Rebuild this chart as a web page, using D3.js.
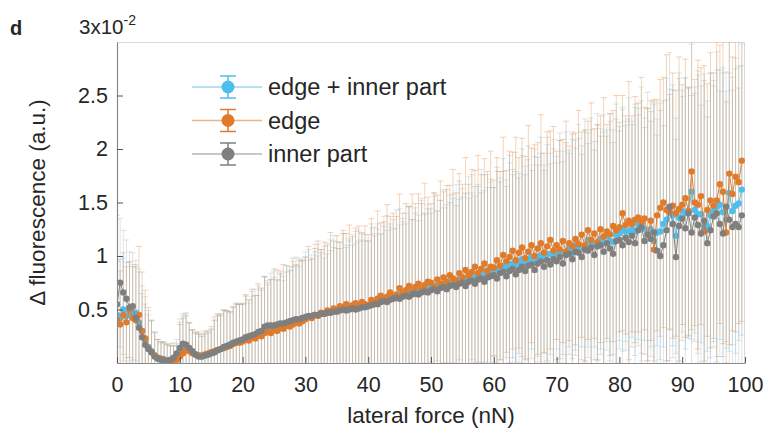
<!DOCTYPE html>
<html>
<head>
<meta charset="utf-8">
<script src="https://cdn.jsdelivr.net/npm/d3@7"></script>
<style>
body { margin: 0; background: #fff; }
text { font-family: "Liberation Sans", Arial, sans-serif; fill: #262626; }
</style>
</head>
<body>
<div id="chart"></div>
<script>
// lateral force (nN), one sample every 0.5 nN
var force = [0,0.5,1,1.5,2,2.5,3,3.5,4,4.5,5,5.5,6,6.5,7,7.5,8,8.5,9,9.5,
  10,10.5,11,11.5,12,12.5,13,13.5,14,14.5,15,15.5,16,16.5,17,17.5,18,18.5,19,19.5,
  20,20.5,21,21.5,22,22.5,23,23.5,24,24.5,25,25.5,26,26.5,27,27.5,28,28.5,29,29.5,
  30,30.5,31,31.5,32,32.5,33,33.5,34,34.5,35,35.5,36,36.5,37,37.5,38,38.5,39,39.5,
  40,40.5,41,41.5,42,42.5,43,43.5,44,44.5,45,45.5,46,46.5,47,47.5,48,48.5,49,49.5,
  50,50.5,51,51.5,52,52.5,53,53.5,54,54.5,55,55.5,56,56.5,57,57.5,58,58.5,59,59.5,
  60,60.5,61,61.5,62,62.5,63,63.5,64,64.5,65,65.5,66,66.5,67,67.5,68,68.5,69,69.5,
  70,70.5,71,71.5,72,72.5,73,73.5,74,74.5,75,75.5,76,76.5,77,77.5,78,78.5,79,79.5,
  80,80.5,81,81.5,82,82.5,83,83.5,84,84.5,85,85.5,86,86.5,87,87.5,88,88.5,89,89.5,
  90,90.5,91,91.5,92,92.5,93,93.5,94,94.5,95,95.5,96,96.5,97,97.5,98,98.5,99,99.5];

// mean delta fluorescence, in units of 1e-2 a.u.
var meanBoth = [0.45,0.42,0.50,0.44,0.48,0.45,0.47,0.38,0.30,0.22,0.15,0.11,0.07,0.05,0.04,0.03,0.02,0.02,0.03,0.05,
  0.10,0.14,0.15,0.13,0.10,0.08,0.07,0.06,0.07,0.08,0.09,0.10,0.12,0.13,0.14,0.16,0.17,0.18,0.19,0.20,
  0.21,0.23,0.23,0.25,0.25,0.27,0.28,0.31,0.32,0.32,0.33,0.33,0.35,0.35,0.36,0.37,0.38,0.39,0.39,0.41,
  0.42,0.43,0.43,0.45,0.45,0.46,0.46,0.48,0.48,0.50,0.49,0.51,0.51,0.52,0.51,0.53,0.53,0.52,0.54,0.54,
  0.54,0.56,0.57,0.56,0.59,0.59,0.60,0.61,0.62,0.63,0.64,0.64,0.66,0.65,0.67,0.68,0.67,0.69,0.70,0.69,
  0.71,0.72,0.72,0.72,0.74,0.74,0.75,0.77,0.75,0.78,0.78,0.78,0.79,0.81,0.79,0.83,0.84,0.81,0.86,0.85,
  0.85,0.87,0.88,0.91,0.88,0.92,0.93,0.92,0.93,0.97,0.94,0.97,0.99,0.94,0.99,1.01,0.97,1.02,1.02,1.01,
  1.03,1.04,1.03,1.04,1.07,1.03,1.10,1.08,1.09,1.09,1.15,1.12,1.11,1.12,1.16,1.12,1.19,1.14,1.13,1.20,
  1.21,1.25,1.23,1.23,1.25,1.23,1.30,1.30,1.25,1.20,1.25,1.14,1.22,1.23,1.30,1.34,1.44,1.38,1.19,1.36,
  1.42,1.40,1.41,1.60,1.43,1.39,1.39,1.28,1.28,1.38,1.42,1.46,1.48,1.41,1.34,1.59,1.42,1.47,1.49,1.62];
var meanEdge = [0.40,0.36,0.45,0.38,0.50,0.42,0.40,0.45,0.30,0.23,0.14,0.10,0.07,0.05,0.04,0.03,0.02,0.02,0.02,0.03,
  0.06,0.09,0.12,0.11,0.09,0.08,0.07,0.07,0.08,0.09,0.10,0.11,0.12,0.13,0.14,0.15,0.16,0.18,0.19,0.19,
  0.20,0.22,0.21,0.24,0.23,0.26,0.25,0.28,0.29,0.28,0.31,0.30,0.33,0.32,0.35,0.34,0.36,0.38,0.37,0.39,
  0.41,0.43,0.42,0.45,0.44,0.47,0.46,0.49,0.48,0.51,0.50,0.53,0.52,0.55,0.51,0.54,0.56,0.53,0.57,0.55,
  0.54,0.59,0.57,0.60,0.63,0.58,0.62,0.66,0.61,0.64,0.70,0.65,0.68,0.72,0.66,0.71,0.74,0.69,0.73,0.76,
  0.75,0.71,0.78,0.74,0.80,0.76,0.82,0.79,0.77,0.84,0.80,0.87,0.82,0.85,0.90,0.84,0.88,0.93,0.86,0.90,
  0.89,0.96,0.91,1.01,0.95,0.99,1.05,0.96,1.03,1.08,0.98,1.04,1.10,1.00,1.07,1.12,1.03,1.09,1.15,1.05,
  1.10,1.06,1.14,1.04,1.12,1.09,1.16,1.11,1.20,1.10,1.24,1.15,1.21,1.13,1.25,1.18,1.23,1.20,1.28,1.24,
  1.27,1.40,1.29,1.33,1.30,1.34,1.36,1.32,1.35,1.20,1.33,1.06,1.38,1.45,1.50,1.43,1.41,1.47,1.40,1.44,
  1.48,1.54,1.42,1.79,1.50,1.48,1.56,1.23,1.43,1.52,1.47,1.52,1.67,1.60,1.22,1.77,1.58,1.74,1.69,1.89];
var meanInner = [0.55,0.75,0.66,0.60,0.52,0.53,0.42,0.33,0.24,0.17,0.13,0.10,0.06,0.04,0.03,0.03,0.02,0.03,0.05,0.09,
  0.14,0.18,0.17,0.14,0.11,0.08,0.06,0.06,0.07,0.08,0.09,0.10,0.12,0.13,0.15,0.16,0.17,0.19,0.20,0.21,
  0.22,0.24,0.25,0.26,0.27,0.29,0.30,0.34,0.35,0.35,0.35,0.36,0.37,0.37,0.38,0.39,0.40,0.41,0.41,0.42,
  0.43,0.44,0.44,0.45,0.45,0.46,0.46,0.47,0.47,0.48,0.48,0.49,0.50,0.49,0.50,0.51,0.50,0.51,0.52,0.52,
  0.53,0.54,0.55,0.55,0.57,0.58,0.57,0.59,0.60,0.61,0.60,0.62,0.63,0.62,0.64,0.65,0.64,0.66,0.67,0.66,
  0.68,0.69,0.67,0.70,0.71,0.69,0.72,0.73,0.71,0.74,0.75,0.72,0.76,0.77,0.74,0.78,0.79,0.76,0.80,0.81,
  0.82,0.79,0.84,0.85,0.81,0.86,0.88,0.83,0.87,0.90,0.86,0.91,0.92,0.87,0.93,0.95,0.90,0.96,0.92,0.97,
  0.95,0.99,0.93,1.01,1.02,0.97,1.04,1.03,0.99,1.06,1.05,1.08,1.01,1.09,1.10,1.04,1.12,1.07,1.02,1.14,
  1.15,1.10,1.17,1.13,1.19,1.12,1.24,1.27,1.14,1.20,1.16,1.22,1.05,1.00,1.10,1.24,1.46,1.30,0.99,1.28,
  1.35,1.26,1.40,1.22,1.36,1.29,1.21,1.33,1.12,1.24,1.37,1.40,1.30,1.21,1.46,1.34,1.27,1.30,1.27,1.38];

// standard deviation, same units
var sdBoth = [0.52,0.55,0.48,0.50,0.46,0.47,0.45,0.50,0.42,0.40,0.34,0.28,0.22,0.17,0.16,0.15,0.15,0.14,0.13,0.13,
  0.28,0.30,0.31,0.25,0.21,0.20,0.20,0.19,0.20,0.21,0.23,0.30,0.32,0.32,0.35,0.33,0.31,0.34,0.36,0.35,
  0.34,0.40,0.33,0.37,0.44,0.36,0.42,0.50,0.41,0.46,0.53,0.44,0.48,0.42,0.55,0.49,0.52,0.60,0.51,0.56,
  0.62,0.53,0.58,0.66,0.55,0.60,0.52,0.64,0.57,0.69,0.58,0.62,0.70,0.56,0.63,0.67,0.59,0.72,0.61,0.66,
  0.60,0.70,0.64,0.74,0.62,0.69,0.78,0.66,0.72,0.63,0.80,0.68,0.74,0.82,0.67,0.77,0.71,0.85,0.70,0.79,
  0.73,0.84,0.70,0.80,0.88,0.74,0.82,0.77,0.92,0.75,0.85,0.80,0.95,0.78,0.86,0.82,0.97,0.80,0.90,0.84,
  0.79,0.92,0.85,1.00,0.83,0.95,0.88,1.05,0.84,0.97,0.90,1.06,0.86,0.99,0.93,1.10,0.88,1.02,0.94,1.08,
  0.90,1.04,0.95,1.12,0.92,1.06,0.98,1.15,0.94,1.08,1.00,1.17,0.96,1.10,1.03,1.20,0.99,1.12,1.05,1.22,
  1.00,1.14,1.03,1.25,1.01,1.16,1.08,1.28,1.04,1.18,1.10,1.30,1.06,1.20,1.15,1.32,1.12,1.22,1.10,1.35,
  1.13,1.27,1.16,1.38,1.15,1.30,1.20,1.42,1.17,1.33,1.22,1.45,1.26,1.35,1.20,1.48,1.25,1.38,1.28,1.36];
var sdEdge = [0.55,0.50,0.58,0.52,0.45,0.48,0.50,0.64,0.55,0.45,0.38,0.30,0.22,0.17,0.15,0.16,0.15,0.14,0.14,0.13,
  0.30,0.33,0.32,0.26,0.22,0.21,0.22,0.20,0.22,0.21,0.24,0.32,0.34,0.33,0.36,0.34,0.32,0.35,0.37,0.36,
  0.36,0.42,0.38,0.45,0.40,0.48,0.43,0.52,0.46,0.50,0.57,0.48,0.53,0.60,0.50,0.56,0.62,0.54,0.59,0.57,
  0.58,0.66,0.55,0.62,0.70,0.59,0.67,0.61,0.74,0.63,0.69,0.60,0.72,0.66,0.78,0.64,0.70,0.75,0.65,0.73,
  0.66,0.76,0.70,0.82,0.68,0.74,0.86,0.71,0.79,0.73,0.88,0.75,0.81,0.74,0.92,0.78,0.84,0.80,0.95,0.79,
  0.74,0.88,0.79,0.96,0.80,0.90,0.84,1.02,0.82,0.93,0.87,1.05,0.85,0.96,0.90,1.10,0.88,0.98,0.93,1.08,
  0.82,0.96,0.88,1.10,0.85,0.99,0.92,1.15,0.89,1.02,0.95,1.18,0.91,1.04,0.99,1.20,0.93,1.07,1.02,1.16,
  0.88,1.02,0.95,1.22,0.91,1.05,0.99,1.25,0.96,1.08,1.02,1.28,0.98,1.10,1.06,1.30,1.00,1.13,1.08,1.26,
  0.98,1.10,1.02,1.30,1.01,1.15,1.07,1.35,1.04,1.18,1.12,1.40,1.08,1.20,1.17,1.45,1.10,1.24,1.15,1.42,
  1.12,1.30,1.16,1.48,1.15,1.35,1.20,1.55,1.18,1.38,1.24,1.58,1.30,1.42,1.22,1.60,1.28,1.45,1.32,1.50];
var sdInner = [0.83,0.60,0.58,0.55,0.52,0.50,0.54,0.52,0.41,0.38,0.32,0.30,0.22,0.18,0.17,0.17,0.16,0.15,0.14,0.13,
  0.27,0.28,0.30,0.24,0.20,0.20,0.21,0.19,0.21,0.20,0.22,0.30,0.33,0.31,0.34,0.32,0.30,0.33,0.35,0.34,
  0.33,0.38,0.34,0.41,0.36,0.43,0.40,0.47,0.42,0.49,0.45,0.51,0.47,0.44,0.53,0.48,0.55,0.50,0.57,0.53,
  0.56,0.62,0.54,0.59,0.66,0.57,0.63,0.55,0.68,0.60,0.65,0.58,0.71,0.61,0.66,0.59,0.73,0.63,0.69,0.62,
  0.61,0.76,0.64,0.70,0.63,0.79,0.67,0.71,0.65,0.82,0.69,0.73,0.67,0.84,0.70,0.75,0.69,0.86,0.72,0.78,
  0.72,0.90,0.75,0.82,0.74,0.93,0.78,0.85,0.76,0.96,0.80,0.87,0.78,0.99,0.82,0.89,0.80,1.00,0.84,0.91,
  0.82,1.04,0.85,0.94,0.84,1.08,0.88,0.96,0.86,1.10,0.90,0.99,0.88,1.13,0.92,1.01,0.90,1.15,0.94,1.03,
  0.92,1.16,0.95,1.05,0.94,1.19,0.97,1.07,0.96,1.22,1.00,1.10,0.98,1.24,1.02,1.12,1.00,1.26,1.04,1.14,
  1.02,1.27,1.05,1.15,1.04,1.30,1.08,1.18,1.06,1.33,1.10,1.20,1.08,1.36,1.12,1.22,1.44,1.25,1.10,1.38,
  1.14,1.40,1.17,1.28,1.16,1.44,1.20,1.31,1.18,1.47,1.22,1.34,1.24,1.50,1.26,1.37,1.28,1.45,1.30,1.40];

var seriesNames = ["edge + inner part", "edge", "inner part"];
var xTicks = [0, 10, 20, 30, 40, 50, 60, 70, 80, 90, 100];
var yTicks = [0.5, 1, 1.5, 2, 2.5];

function drawChart() {
    var width = 783, height = 437;
    var plotLeft = 117, plotRight = 745, plotTop = 42, plotBottom = 363;

    // colours: marker, error bar (+ its opacity), legend line
    var colors = [
      {dot: "#4DBEEE", bar: "#5CC3EE", op: 0.3, leg: "#9AD8F3"},
      {dot: "#E07B2C", bar: "#EC9752", op: 0.42, leg: "#F0B483"},
      {dot: "#7F7F7F", bar: "#9A9A9A", op: 0.28, leg: "#B5B5B5"}
    ];

    var series = [
      {name: seriesNames[0], mean: meanBoth, sd: sdBoth, c: colors[0]},
      {name: seriesNames[1], mean: meanEdge, sd: sdEdge, c: colors[1]},
      {name: seriesNames[2], mean: meanInner, sd: sdInner, c: colors[2]}
    ];

    var svg = d3.select("#chart").append("svg")
        .attr("width", width)
        .attr("height", height);

    var x = d3.scaleLinear().domain([0, 100]).range([plotLeft, plotRight]);
    var y = d3.scaleLinear().domain([0, 3]).range([plotBottom, plotTop]);

    svg.append("defs").append("clipPath").attr("id", "plotclip")
      .append("rect")
        .attr("x", plotLeft).attr("y", plotTop)
        .attr("width", plotRight - plotLeft).attr("height", plotBottom - plotTop);

    // light box around the axes
    svg.append("rect")
        .attr("x", plotLeft + 0.5).attr("y", plotTop + 0.5)
        .attr("width", plotRight - plotLeft - 1).attr("height", plotBottom - plotTop)
        .attr("fill", "none")
        .attr("stroke", "#d9d9d9");

    var plot = svg.append("g").attr("clip-path", "url(#plotclip)");

    // error bars first, then lines and markers on top
    series.forEach(function(s) {
        var pts = force.map(function(f, i) { return {f: f, m: s.mean[i], e: s.sd[i]}; });
        var g = plot.append("g")
            .attr("stroke", s.c.bar)
            .attr("stroke-opacity", s.c.op)
            .attr("stroke-width", 1);
        g.selectAll("line.v").data(pts).enter().append("line")
            .attr("x1", d => x(d.f)).attr("x2", d => x(d.f))
            .attr("y1", d => y(d.m - d.e)).attr("y2", d => y(d.m + d.e));
        g.selectAll("line.t").data(pts).enter().append("line")
            .attr("x1", d => x(d.f) - 3).attr("x2", d => x(d.f) + 3)
            .attr("y1", d => y(d.m + d.e)).attr("y2", d => y(d.m + d.e));
        g.selectAll("line.b").data(pts).enter().append("line")
            .attr("x1", d => x(d.f) - 3).attr("x2", d => x(d.f) + 3)
            .attr("y1", d => y(d.m - d.e)).attr("y2", d => y(d.m - d.e));
    });

    series.forEach(function(s) {
        var pts = force.map(function(f, i) { return {f: f, m: s.mean[i]}; });
        plot.append("path")
            .datum(pts)
            .attr("fill", "none")
            .attr("stroke", s.c.dot)
            .attr("stroke-width", 1)
            .attr("d", d3.line().x(d => x(d.f)).y(d => y(d.m)));
        plot.append("g").selectAll("circle").data(pts).enter().append("circle")
            .attr("cx", d => x(d.f))
            .attr("cy", d => y(d.m))
            .attr("r", 3.2)
            .attr("fill", s.c.dot);
    });

    // axes, ticks pointing inward
    var yAxis = svg.append("g")
        .attr("transform", "translate(" + plotLeft + ",0)")
        .call(d3.axisLeft(y).tickValues(yTicks).tickSize(-6).tickSizeOuter(0).tickPadding(9)
            .tickFormat(d => d));
    var xAxis = svg.append("g")
        .attr("transform", "translate(0," + plotBottom + ")")
        .call(d3.axisBottom(x).tickValues(xTicks).tickSize(-6).tickSizeOuter(0).tickPadding(14));

    [xAxis, yAxis].forEach(function(a) {
        a.select(".domain").attr("stroke", "#8a8a8a").attr("stroke-width", 1.2);
        a.selectAll(".tick line").attr("stroke", "#555");
        a.selectAll(".tick text").attr("font-size", 21.5).attr("fill", "#262626")
            .style("font-family", "'Liberation Sans', Arial, sans-serif");
    });

    // exponent label
    var expo = svg.append("text").attr("x", 79).attr("y", 34).attr("font-size", 20.5);
    expo.append("tspan").text("3x10");
    expo.append("tspan").attr("dy", -9).attr("font-size", 14).text("-2");

    svg.append("text")
        .attr("x", 10).attr("y", 35)
        .attr("font-size", 20)
        .attr("font-weight", "bold")
        .text("d");

    svg.append("text")
        .attr("x", (plotLeft + plotRight) / 2).attr("y", 423)
        .attr("text-anchor", "middle")
        .attr("font-size", 22.5)
        .text("lateral force (nN)");

    svg.append("text")
        .attr("transform", "translate(45," + ((plotTop + plotBottom) / 2) + ") rotate(-90)")
        .attr("text-anchor", "middle")
        .attr("font-size", 22.5)
        .text("\u0394 fluorescence (a.u.)");

    // legend
    series.forEach(function(s, i) {
        var cy = 87 + i * 33.5;
        var lg = svg.append("g");
        lg.append("line").attr("x1", 192).attr("x2", 262).attr("y1", cy).attr("y2", cy)
            .attr("stroke", s.c.leg).attr("stroke-width", 1.5);
        lg.append("line").attr("x1", 228).attr("x2", 228).attr("y1", cy - 11).attr("y2", cy + 11)
            .attr("stroke", s.c.dot).attr("stroke-width", 1.5);
        lg.append("line").attr("x1", 220).attr("x2", 236).attr("y1", cy - 11).attr("y2", cy - 11)
            .attr("stroke", s.c.dot).attr("stroke-width", 1.5);
        lg.append("line").attr("x1", 220).attr("x2", 236).attr("y1", cy + 11).attr("y2", cy + 11)
            .attr("stroke", s.c.dot).attr("stroke-width", 1.5);
        lg.append("circle").attr("cx", 228).attr("cy", cy).attr("r", 6.5).attr("fill", s.c.dot);
        lg.append("text").attr("x", 268).attr("y", cy + 8).attr("font-size", 23.5).text(s.name);
    });
}

drawChart();
</script>
</body>
</html>
